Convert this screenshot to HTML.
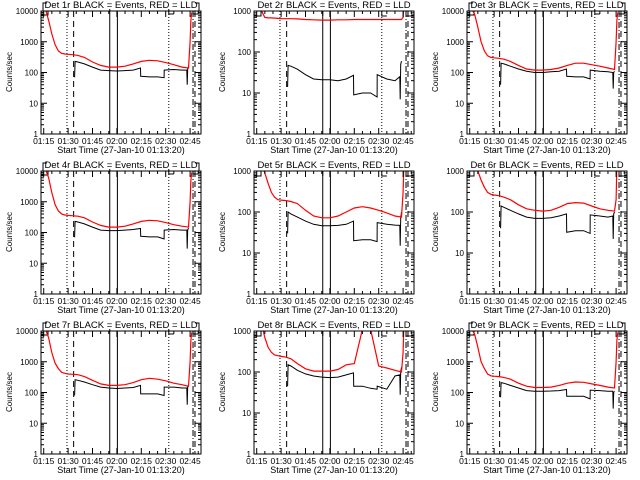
<!DOCTYPE html>
<html><head><meta charset="utf-8"><style>
html,body{margin:0;padding:0;background:#fff;}
svg{display:block;}
text{font-family:"Liberation Sans",sans-serif;}
</style></head><body>
<svg id="c" width="640" height="480" xmlns="http://www.w3.org/2000/svg"></svg>
<script>
const panelNames = ["Det 1r","Det 2r","Det 3r","Det 4r","Det 5r","Det 6r","Det 7r","Det 8r","Det 9r"];
const panelYMax = [10000,1000,10000,10000,1000,1000,10000,1000,10000];
const xTickLabels = ["01:15","01:30","01:45","02:00","02:15","02:30","02:45"];
const xTickMinutes = [15,30,45,60,75,90,105];
const redTimes = [13.3,16,18,20,22,24,26,28,30,33,36,40,45,50,55,60,65,70,75,80,85,90,95,100,104,105,105.5,106];
const blackTimes = [34,34.3,36,40,45,50,55,60,65,70,74.5,74.6,80,85,89,89.1,95,100,103,103.2,103.5,104];
const red1 = [12000,12000,5000,1800,800,500,420,400,390,380,360,310,220,170,150,150,160,190,230,250,240,210,180,150,140,1000,5000,9000];
const black1 = [70,230,220,190,150,120,115,112,115,120,140,75,72,72,68,120,125,120,120,40,130,150];
const red2 = [1500,1500,1000,700,680,680,670,660,650,650,650,640,620,610,600,600,610,610,620,620,620,620,620,620,620,700,1500,1500];
const black2 = [14,47,45,38,28,22,21,21,20,22,27,9,10,10,8,28,22,20,25,7,50,60];
const red3 = [12000,12000,8000,3000,1000,500,350,310,300,290,270,230,170,130,120,120,125,140,170,200,200,180,160,140,125,1000,5000,9000];
const black3 = [40,200,190,160,130,110,100,100,105,110,130,75,72,72,62,120,110,105,100,30,100,110];
const red4 = [12000,12000,6000,2000,800,500,400,370,360,350,340,300,220,170,150,150,160,190,230,250,240,210,180,160,150,1000,5000,9000];
const black4 = [70,230,220,190,150,120,115,115,120,125,135,75,72,72,62,120,125,120,120,30,120,140];
const red5 = [1500,1500,1500,900,500,300,230,200,195,190,180,160,110,80,72,72,80,100,125,135,125,110,95,80,75,300,1500,1500];
const black5 = [30,100,90,75,60,50,46,46,47,50,60,20,21,21,19,55,50,48,47,15,70,100];
const red6 = [1500,1500,1500,1000,600,400,300,270,260,250,230,200,150,120,110,105,110,130,160,170,165,140,120,110,105,200,1500,1500];
const black6 = [40,140,130,110,90,75,70,70,72,80,90,32,35,35,30,85,80,75,80,22,90,100];
const red7 = [12000,12000,6000,2000,900,600,450,420,400,390,380,330,250,190,170,170,180,210,260,290,270,240,200,180,160,1000,5000,9000];
const black7 = [80,260,250,220,180,150,140,135,140,145,170,90,90,90,80,150,150,140,140,40,150,170];
const red8 = [1500,1500,1500,700,400,300,260,250,240,230,210,160,120,105,105,105,115,150,160,1100,1100,140,125,110,100,300,1500,1500];
const black8 = [45,150,140,110,90,80,75,73,75,85,95,45,45,40,38,45,38,80,85,28,100,130];
const red9 = [12000,12000,8000,3000,1000,600,400,350,340,330,310,270,200,160,145,145,150,170,200,220,215,190,170,150,140,1000,5000,9000];
const black9 = [70,210,200,170,140,115,110,110,112,115,125,75,75,75,62,120,115,110,110,30,100,110];
const redSeries = [red1,red2,red3,red4,red5,red6,red7,red8,red9];
const blackSeries = [black1,black2,black3,black4,black5,black6,black7,black8,black9];
const markerTimes = [29.3,33.4,55.6,60.3,91.9,106.8,108];
const markerStyles = ["1,2","6,4","","","1,2","6,2,1,2","6,4"];

const NS="http://www.w3.org/2000/svg";
const svg=document.getElementById('c');
function mk(tag,attrs,parent){const e=document.createElementNS(NS,tag);for(const k in attrs)e.setAttribute(k,attrs[k]);(parent||svg).appendChild(e);return e;}
const XMIN=13.333, XMAX=111.7;
for(let p=0;p<9;p++){
  const ox=(p%3)*213, oy=Math.floor(p/3)*160;
  const L=ox+41, R=ox+201, T=oy+11, B=oy+134;
  const ymax=panelYMax[p], dec=Math.log10(ymax);
  const xs=t=>L+(t-XMIN)/(XMAX-XMIN)*(R-L);
  const ys=v=>B-Math.log10(Math.max(v,0.5))/dec*(B-T);
  const g=mk('g',{});
  
  
  const clip=mk('clipPath',{id:'cl'+p},g);
  mk('rect',{x:L,y:T,width:R-L,height:B-T},clip);
  markerTimes.forEach((t,i)=>{
    const ln=mk('line',{x1:xs(t),x2:xs(t),y1:T,y2:B,stroke:'#000','stroke-width':1,'stroke-dasharray':markerStyles[i]},g);
    
    
  });
  let d;
  if(dec==4){
    d=`M${L+2} ${oy+11}V${oy+3}H${R-2}V${oy+11}M${xs(55.6)} ${oy+3}V${oy+11}M${xs(91.9)} ${oy+3}V${oy+14}H${xs(95)}M${R-8} ${oy+11}V${oy+14}H${R}M${L} ${oy+15}H${L+7}V${oy+11}`;
  } else {
    d=`M${L} ${oy+16}H${L+7}V${oy+11}M${xs(55.6)} ${oy+11}V${oy+16}M${xs(60.3)} ${oy+11}H${xs(55.6)}M${xs(91.9)} ${oy+11}V${oy+16}H${xs(95)}M${R-8} ${oy+11}V${oy+16}H${R}`;
  }
  const br=mk('path',{d:d,fill:'none',stroke:'#000','stroke-width':1},g);
  
  
  const bpts=blackTimes.map((t,i)=>xs(t).toFixed(1)+','+ys(blackSeries[p][i]).toFixed(1)).join(' ');
  const bl=mk('polyline',{points:bpts,fill:'none',stroke:'#000','stroke-width':1,'clip-path':`url(#cl${p})`},g);
  
  
  const rpts=redTimes.map((t,i)=>xs(t).toFixed(1)+','+ys(redSeries[p][i]).toFixed(1)).join(' ');
  const rl=mk('polyline',{points:rpts,fill:'none',stroke:'#ff0000','stroke-width':1.2,'clip-path':`url(#cl${p})`},g);
  
  
  const box=mk('rect',{x:L,y:T,width:R-L,height:B-T,fill:'none',stroke:'#000','stroke-width':1},g);
  
  
  for(let k=0;k<=dec;k++){
    const y=ys(Math.pow(10,k));
    mk('line',{x1:L,x2:L+6,y1:y,y2:y,stroke:'#000'},g);
    mk('line',{x1:R,x2:R-6,y1:y,y2:y,stroke:'#000'},g);
    const tx=mk('text',{x:L-3,y:y+3,'font-size':8,'text-anchor':'end'},g);
    tx.textContent=String(Math.pow(10,k));
    
    
    if(k<dec)for(let m=2;m<10;m++){const yy=ys(m*Math.pow(10,k));
      mk('line',{x1:L,x2:L+3,y1:yy,y2:yy,stroke:'#000'},g);
      mk('line',{x1:R,x2:R-3,y1:yy,y2:yy,stroke:'#000'},g);}
  }
  for(let t=15;t<=110;t+=5){const x=xs(t),maj=(t%15==0);
    mk('line',{x1:x,x2:x,y1:B,y2:B-(maj?6:3),stroke:'#000'},g);
    mk('line',{x1:x,x2:x,y1:T,y2:T+(maj?6:3),stroke:'#000'},g);}
  xTickMinutes.forEach((t,i)=>{
    const tx=mk('text',{x:xs(t),y:B+10,'font-size':8.5,'text-anchor':'middle'},g);
    tx.textContent=xTickLabels[i];
    
    
  });
  const xt=mk('text',{x:ox+121,y:B+19,'font-size':9,'text-anchor':'middle'},g);
  xt.textContent='Start Time (27-Jan-10 01:13:20)';
  
  
  const yt=mk('text',{x:ox+12,y:oy+72,'font-size':8,'text-anchor':'middle',transform:`rotate(-90 ${ox+12} ${oy+72})`},g);
  yt.textContent='Counts/sec';
  
  
  if(dec==4) mk('rect',{x:ox+47,y:oy,width:148,height:9,fill:'#fff'},g);
  const tt=mk('text',{x:ox+121,y:oy+8,'font-size':9.5,'text-anchor':'middle'},g);
  tt.textContent=panelNames[p]+' BLACK = Events, RED = LLD';
  
  
}
</script>
</body></html>
